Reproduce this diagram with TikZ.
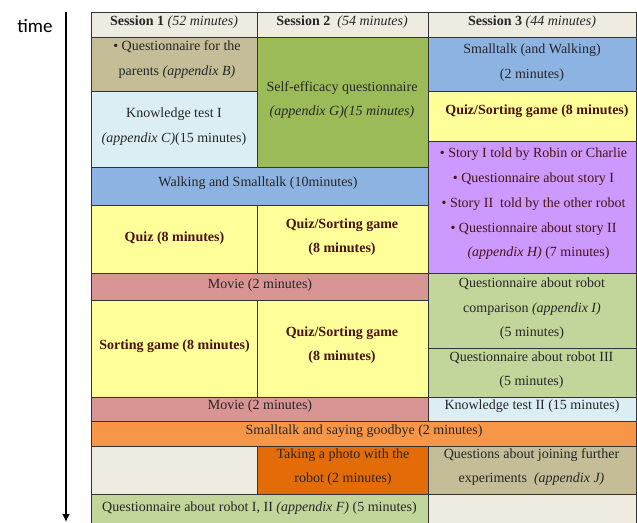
\documentclass[tikz,border=0pt]{standalone}
\usepackage{fontspec}
\setmainfont{Liberation Serif}
\newfontfamily\labelfont{Carlito}
\usetikzlibrary{arrows.meta}

\definecolor{hdr}{HTML}{EEECE1}
\definecolor{khaki}{HTML}{C4BD97}
\definecolor{paleblue}{HTML}{DBEEF3}
\definecolor{grass}{HTML}{9BBB59}
\definecolor{sky}{HTML}{8DB3E2}
\definecolor{lemon}{HTML}{FFFF99}
\definecolor{lilac}{HTML}{CC99FF}
\definecolor{rose}{HTML}{D99594}
\definecolor{sage}{HTML}{C2D69B}
\definecolor{tangerine}{HTML}{F79646}
\definecolor{rust}{HTML}{E36C09}
\definecolor{ink}{HTML}{262626}
\definecolor{maroon}{HTML}{4A1212}
\definecolor{rule}{HTML}{333333}

% \cellbox{name}{left}{top}{right}{bottom}{fill}
\newcommand\cellbox[6]{%
  \node[cell, fill=#6, minimum width={#4-#2}, minimum height={#5-#3}] (#1) at (#2,#3) {};}

\begin{document}
\begin{tikzpicture}[x=1pt, y=-1pt,
  cell/.style={draw=rule, line width=0.9pt, anchor=north west, inner sep=0pt, outer sep=0pt},
  txt/.style={align=center, inner sep=0pt, yshift=-1.5pt, text=ink, font=\fontsize{14}{24.5}\selectfont},
  boldtxt/.style={txt, text=maroon, font=\fontsize{14}{24.5}\selectfont\bfseries},
  storytxt/.style={txt, text=maroon, font=\fontsize{14}{24.8}\selectfont}]
\useasboundingbox (0,0) rectangle (637,522);
\clip (0,0) rectangle (637,522);

% time axis
\node[font=\labelfont\fontsize{19}{22}\selectfont, text=black] (timelabel) at (35,26) {time};
\coordinate (axtop) at (66,12);
\coordinate (axbot) at (66,522);
\draw[line width=2.6pt, -{Latex[length=8pt,width=8pt]}] (axtop) -- (axbot);

% headers
\cellbox{h1}{91}{12}{257}{37}{hdr}
\cellbox{h2}{257}{12}{428}{37}{hdr}
\cellbox{h3}{428}{12}{636}{37}{hdr}

% session 1 / 2 column cells
\cellbox{parents}{91}{37}{257}{91}{khaki}
\cellbox{ktest}{91}{91}{257}{167}{paleblue}
\cellbox{selfeff}{257}{37}{428}{167}{grass}
\cellbox{walk}{91}{167}{428}{205}{sky}
\cellbox{quiz}{91}{205}{257}{273}{lemon}
\cellbox{qsa}{257}{205}{428}{273}{lemon}
\cellbox{movieA}{91}{273}{428}{300}{rose}
\cellbox{sorting}{91}{300}{257}{397}{lemon}
\cellbox{qsb}{257}{300}{428}{397}{lemon}
\cellbox{movieB}{91}{397}{428}{421}{rose}

% session 3 column cells
\cellbox{small}{428}{37}{636}{91}{sky}
\cellbox{qsc}{428}{91}{636}{141}{lemon}
\cellbox{story}{428}{141}{636}{273}{lilac}
\cellbox{compare}{428}{273}{636}{348}{sage}
\cellbox{robot3}{428}{348}{636}{397}{sage}
\cellbox{ktest2}{428}{397}{636}{421}{paleblue}

% closing rows
\cellbox{bye}{91}{421}{636}{446}{tangerine}
\cellbox{blank1}{91}{446}{257}{494}{hdr}
\cellbox{photo}{257}{446}{428}{494}{rust}
\cellbox{join}{428}{446}{636}{494}{khaki}
\cellbox{robot12}{91}{494}{428}{526}{sage}
\cellbox{blank3}{428}{494}{636}{526}{hdr}

% texts
\node[txt] (h1t) at (174,21) {\textbf{Session 1} \textit{(52 minutes)}};
\node[txt] (h2t) at (342,21) {\textbf{Session 2}\ \ \textit{(54 minutes)}};
\node[txt] (h3t) at (532,21) {\textbf{Session 3} \textit{(44 minutes)}};

\node[txt] (parentst) at (177,58) {• Questionnaire for the\\ parents \textit{(appendix B)}};
\node[txt] (ktestt) at (174,125) {Knowledge test I\\ \textit{(appendix C)}(15 minutes)};
\node[txt] (selfefft) at (342,98.5) {Self-efficacy questionnaire\\ \textit{(appendix G)(15 minutes)}};
\node[txt] (walkt) at (258,182) {Walking and Smalltalk (10minutes)};
\node[boldtxt] (quizt) at (174.5,237) {Quiz (8 minutes)};
\node[boldtxt] (qsat) at (342,235.5) {Quiz/Sorting game\\ (8 minutes)};
\node[txt] (movieAt) at (260,284) {Movie (2 minutes)};
\node[boldtxt] (sortingt) at (174.5,345) {Sorting game (8 minutes)};
\node[boldtxt] (qsbt) at (342,343.5) {Quiz/Sorting game\\ (8 minutes)};
\node[txt] (movieBt) at (260,405) {Movie (2 minutes)};

\node[txt] (smallt) at (532,61) {Smalltalk (and Walking)\\ (2 minutes)};
\node[boldtxt] (qsct) at (537,109.5) {Quiz/Sorting game (8 minutes)};
\node[storytxt] (storyt) at (533.5,202.5) {• Story I told by Robin or Charlie\\
  • Questionnaire about story I\\
  • Story II\ \ told by the other robot\\
  • Questionnaire about story II\\
  \hspace*{10pt}\textit{(appendix H)} (7 minutes)};
\node[txt] (comparet) at (532,307.5) {Questionnaire about robot\\ comparison \textit{(appendix I)}\\ (5 minutes)};
\node[txt] (robot3t) at (531.5,368.5) {Questionnaire about robot III\\ (5 minutes)};
\node[txt] (ktest2t) at (532,405) {Knowledge test II (15 minutes)};

\node[txt] (byet) at (364,430) {Smalltalk and saying goodbye (2 minutes)};
\node[txt] (photot) at (343,465.5) {Taking a photo with the\\ robot (2 minutes)};
\node[txt] (joint) at (531.5,465.5) {Questions about joining further\\ experiments\ \ \textit{(appendix J)}};
\node[txt] (robot12t) at (259.5,506.5) {Questionnaire about robot I, II \textit{(appendix F)} (5 minutes)};
\end{tikzpicture}
\end{document}
